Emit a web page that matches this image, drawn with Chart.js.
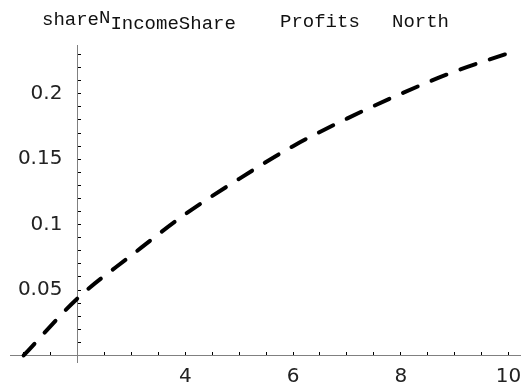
<!DOCTYPE html>
<html>
<head>
<meta charset="utf-8">
<script src="https://cdn.jsdelivr.net/npm/chart.js@4/dist/chart.umd.min.js"></script>
<style>
  html, body { margin: 0; padding: 0; background: #fff; }
  #wrap { width: 526px; height: 392px; }
</style>
</head>
<body>
<div id="wrap"><canvas id="c" width="526" height="392"></canvas></div>
<script>
// Data
const xValues = [1, 2, 3, 4, 5, 6, 7, 8, 9, 10];
const shareValues = [0, 0.0436, 0.0765, 0.108, 0.135, 0.160, 0.181, 0.200, 0.217, 0.231];
const xTickLabels = [4, 6, 8, 10];
const yTickLabels = [0.05, 0.1, 0.15, 0.2];
const titleParts = ["share", "N", "IncomeShare", "Profits", "North"];

const points = xValues.map((x, i) => ({ x: x, y: shareValues[i] }));

const titlePlugin = {
  id: 'mmaTitle',
  afterDraw(chart) {
    const ctx = chart.ctx;
    ctx.save();
    ctx.fillStyle = '#111';
    ctx.font = '19px "Liberation Mono", "Courier New", monospace';
    ctx.textBaseline = 'alphabetic';
    ctx.textAlign = 'left';
    let x = 42;
    ctx.fillText(titleParts[0], x, 25);
    x += ctx.measureText(titleParts[0]).width;
    ctx.fillText(titleParts[1], x, 23);
    x += ctx.measureText(titleParts[1]).width;
    ctx.fillText(titleParts[2], x, 29);
    ctx.fillText(titleParts[3], 280, 27);
    ctx.fillText(titleParts[4], 392, 27);
    ctx.restore();
  }
};

const yMin = -0.005, yMax = 0.2373;
const tickFont = { family: '"DejaVu Sans", sans-serif', size: 20 };

new Chart(document.getElementById('c'), {
  type: 'line',
  data: {
    datasets: [{
      data: points,
      borderColor: '#000',
      borderWidth: 4,
      borderDash: [16, 15],
      borderCapStyle: 'round',
      pointRadius: 0,
      fill: false,
      cubicInterpolationMode: 'monotone'
    }]
  },
  options: {
    responsive: false,
    animation: false,
    layout: { padding: { left: 10, right: 6, top: 45, bottom: 30 } },
    plugins: { legend: { display: false }, tooltip: { enabled: false }, title: { display: false } },
    scales: {
      x: {
        type: 'linear',
        min: 0.747,
        max: 10.213,
        position: { y: 0 },
        afterFit: (s) => { s.height = 0; s.paddingLeft = 0; s.paddingRight = 0; },
        grid: { drawOnChartArea: false, tickLength: -4, tickColor: '#000', tickWidth: 1 },
        border: { display: true, color: '#808080', width: 1 },
        ticks: {
          stepSize: 0.5,
          includeBounds: false,
          autoSkip: false,
          maxRotation: 0,
          padding: 13,
          color: '#222',
          font: tickFont,
          callback: (v) => xTickLabels.includes(v) ? String(v) : ''
        }
      },
      y: {
        type: 'linear',
        min: yMin,
        max: yMax,
        position: { x: 2 },
        afterFit: (s) => { s.width = 0; s.paddingTop = 0; s.paddingBottom = 0; },
        grid: { drawOnChartArea: false, tickLength: -4, tickColor: '#000', tickWidth: 1 },
        border: { display: true, color: '#808080', width: 1 },
        ticks: {
          stepSize: 0.01,
          includeBounds: false,
          autoSkip: false,
          callback: () => ''
        }
      },
      yLabels: {
        type: 'linear',
        axis: 'y',
        min: yMin,
        max: yMax,
        position: { x: 1.72 },
        afterFit: (s) => { s.width = 0; s.paddingTop = 0; s.paddingBottom = 0; },
        grid: { display: false },
        border: { display: false },
        ticks: {
          stepSize: 0.05,
          includeBounds: false,
          autoSkip: false,
          color: '#222',
          font: tickFont,
          callback: (v) => {
            const r = Math.round(v * 100) / 100;
            return yTickLabels.includes(r) ? String(r) : '';
          }
        }
      }
    }
  },
  plugins: [titlePlugin]
});
</script>
</body>
</html>
